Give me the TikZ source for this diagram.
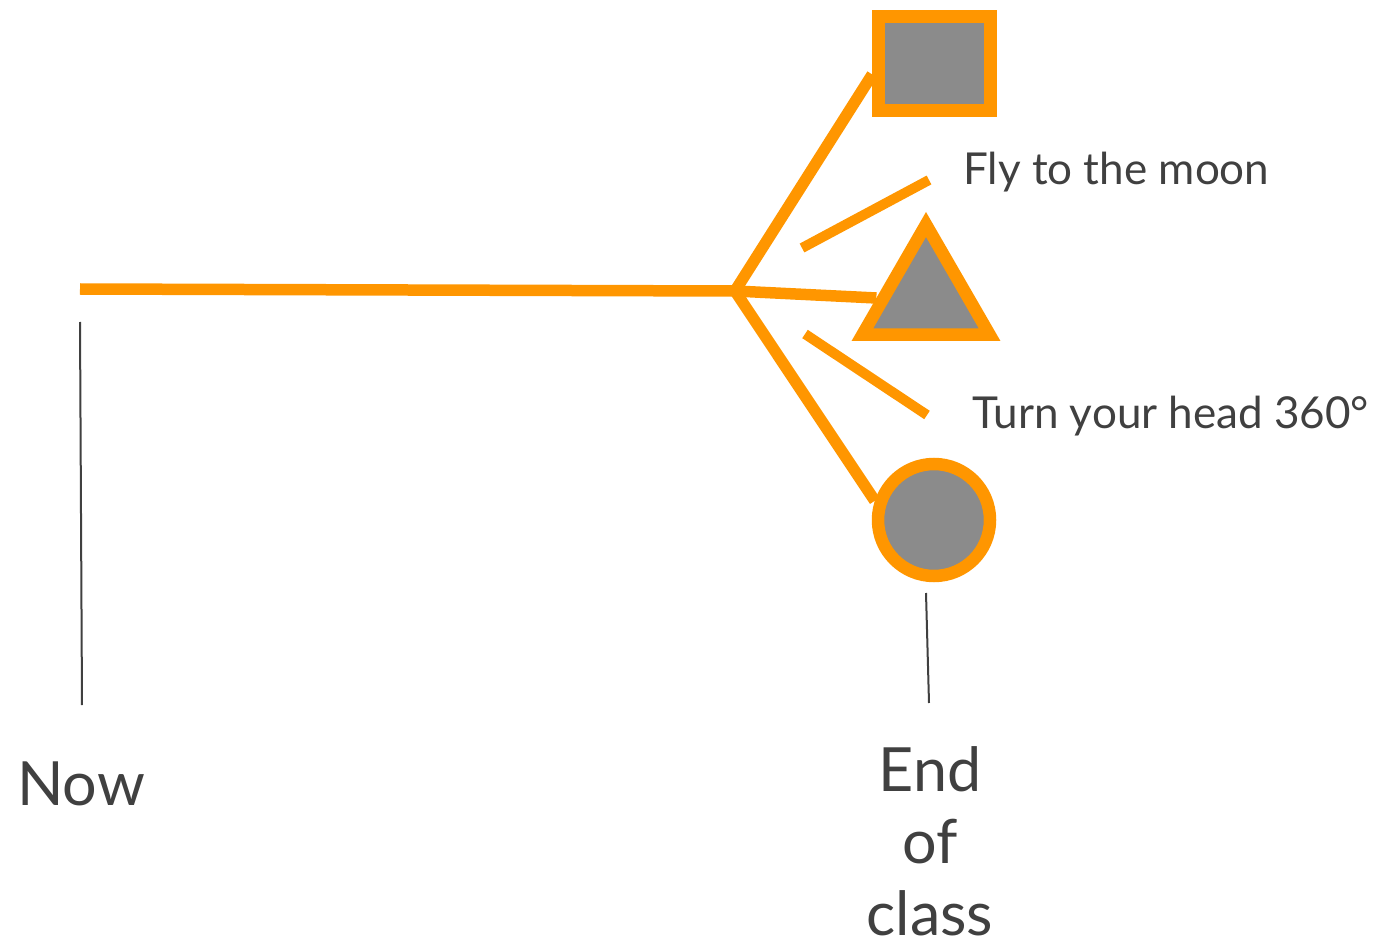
\documentclass[tikz,border=0pt]{standalone}
\usepackage{fontspec}
\setmainfont{Lato}
\usetikzlibrary{shapes.geometric}
\definecolor{orng}{RGB}{255,150,0}
\definecolor{shapegray}{RGB}{139,139,139}
\definecolor{txtgray}{RGB}{64,64,64}
\tikzset{
  branch/.style={draw=orng, line width=11.5pt},
  shortbar/.style={draw=orng, line width=10pt},
  marker/.style={draw=orng, fill=shapegray, line width=12.5pt, inner sep=0pt},
  tick/.style={draw=txtgray, line width=2pt},
  lbl/.style={text=txtgray, inner sep=0pt},
}
\begin{document}
\begin{tikzpicture}[x=1pt,y=-1pt]
\useasboundingbox (0,0) rectangle (1382,941);
% markers
\node[marker, rectangle, minimum width=112pt, minimum height=94pt] (sq) at (934.5,63.5) {};
\node[marker, regular polygon, regular polygon sides=3, minimum size=147pt] (tri) at (926,298) {};
\node[marker, circle, minimum size=112pt] (circ) at (934,520) {};
% coordinates
\coordinate (start) at (80,289);
\coordinate (fork) at (735,291);
\coordinate (flyA) at (802,248);
\coordinate (flyB) at (929,180);
\coordinate (turnA) at (805,334);
\coordinate (turnB) at (927,415);
\coordinate (nowTop) at (80,322);
\coordinate (nowBot) at (82,705);
\coordinate (endTop) at (926,593);
\coordinate (endBot) at (929,703);
% connectors
\draw[branch] (start) -- (fork);
\draw[branch, line join=round] (sq.190) -- (fork) -- (circ.162);
\draw[branch] (fork) -- (tri.west);
\draw[shortbar] (flyA) -- (flyB);
\draw[shortbar] (turnA) -- (turnB);
\draw[tick] (nowTop) -- (nowBot);
\draw[tick] (endTop) -- (endBot);
% labels
\node[lbl, anchor=base west, font=\fontsize{44}{52}\selectfont] (fly) at (963,185) {Fly to the moon};
\node[lbl, anchor=base west, font=\fontsize{44}{52}\selectfont] (turn) at (972,428) {Turn your head 360°};
\node[lbl, anchor=base west, font=\fontsize{61}{72}\selectfont] (now) at (17,805) {Now};
\node[lbl, anchor=base, align=center, font=\fontsize{61}{72}\selectfont] (endc) at (930,935) {End\\of\\class};
\end{tikzpicture}
\end{document}
